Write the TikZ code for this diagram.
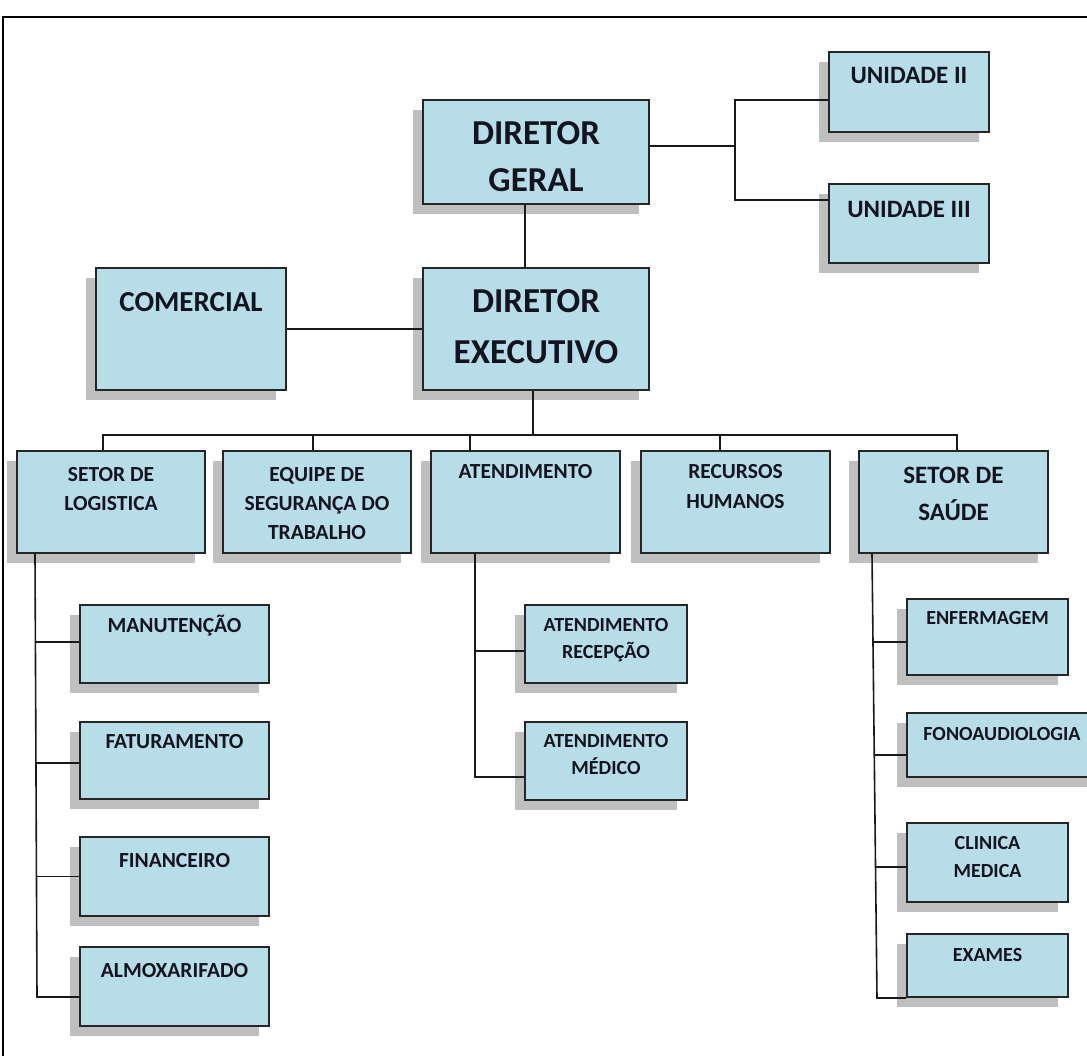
\documentclass[tikz,border=0pt]{standalone}
\usepackage{fontspec}
\setmainfont{Carlito}
\usetikzlibrary{shadows}
\definecolor{boxblue}{HTML}{B7DDE8}
\definecolor{shadowgray}{HTML}{BFBFBF}
\definecolor{txtc}{HTML}{141420}
\newcommand\fsz[1]{\fontsize{#1}{#1}\selectfont\bfseries}
\tikzset{
  box/.style={draw=black!85, line width=1pt, fill=boxblue, inner sep=0pt,
    drop shadow={shadow xshift=-5pt, shadow yshift=-5pt, fill=shadowgray, opacity=1}},
  lbl/.style={anchor=base, inner sep=0pt, text=txtc},
  con/.style={draw=black!90, line width=0.8pt},
}
\newcommand\obox[5]{\node[box, minimum width={(#4-#2)*0.5pt}, minimum height={(#5-#3)*0.5pt}] (#1) at ({(#2+#4)/2},{(#3+#5)/2}) {};}
\newcommand\tl[5]{\node[lbl, font=\fsz{#4}] (#1) at (#2.center |- 0,#3) {#5};}
\begin{document}
\begin{tikzpicture}[x=0.5pt,y=-0.5pt]
\useasboundingbox (0,0) rectangle (1087,1055);
\draw[line width=1pt] (3,17) rectangle (1100,1070);
% boxes
\obox{dg}{423}{100}{649}{204}
\obox{u2}{829}{52}{989}{132}
\obox{u3}{829}{184}{989}{263}
\obox{cm}{96}{268}{286}{390}
\obox{de}{423}{268}{649}{390}
\obox{lg}{17}{451}{205}{553}
\obox{eq}{223}{451}{411}{553}
\obox{at}{431}{451}{620}{553}
\obox{rh}{641}{451}{830}{553}
\obox{sd}{859}{451}{1048}{553}
\obox{mn}{80}{605}{269}{683}
\obox{ft}{80}{722}{269}{799}
\obox{fi}{80}{837}{269}{916}
\obox{al}{80}{947}{269}{1026}
\obox{ar}{525}{605}{687}{683}
\obox{am}{525}{722}{687}{800}
\obox{en}{907}{599}{1068}{675}
\obox{fo}{907}{713}{1097}{777}
\obox{cl}{907}{823}{1068}{902}
\obox{ex}{907}{934}{1068}{997}
% labels
\tl{dg1}{dg}{144}{17.5pt}{DIRETOR}
\tl{dg2}{dg}{191}{17.5pt}{GERAL}
\tl{de1}{de}{312}{17.5pt}{DIRETOR}
\tl{de2}{de}{363}{17.5pt}{EXECUTIVO}
\tl{cm1}{cm}{311}{14.5pt}{COMERCIAL}
\tl{u21}{u2}{83}{12.5pt}{UNIDADE II}
\tl{u31}{u3}{217}{12.5pt}{UNIDADE III}
\tl{lg1}{lg}{481}{10.75pt}{SETOR DE}
\tl{lg2}{lg}{510}{10.75pt}{LOGISTICA}
\tl{eq1}{eq}{481}{10.75pt}{EQUIPE DE}
\tl{eq2}{eq}{510}{10.75pt}{SEGURANÇA DO}
\tl{eq3}{eq}{539}{10.75pt}{TRABALHO}
\tl{at1}{at}{478}{10.75pt}{ATENDIMENTO}
\tl{rh1}{rh}{478}{10.75pt}{RECURSOS}
\tl{rh2}{rh}{508}{10.75pt}{HUMANOS}
\tl{sd1}{sd}{483}{12.5pt}{SETOR DE}
\tl{sd2}{sd}{520}{12.5pt}{SAÚDE}
\tl{mn1}{mn}{632}{10.75pt}{MANUTENÇÃO}
\tl{ft1}{ft}{748}{10.75pt}{FATURAMENTO}
\tl{fi1}{fi}{867}{10.75pt}{FINANCEIRO}
\tl{al1}{al}{977}{10.75pt}{ALMOXARIFADO}
\tl{ar1}{ar}{631}{10pt}{ATENDIMENTO}
\tl{ar2}{ar}{658}{10pt}{RECEPÇÃO}
\tl{am1}{am}{747}{10pt}{ATENDIMENTO}
\tl{am2}{am}{774}{10pt}{MÉDICO}
\tl{en1}{en}{624}{10pt}{ENFERMAGEM}
\tl{fo1}{fo}{740}{10pt}{FONOAUDIOLOGIA}
\tl{cl1}{cl}{849}{10pt}{CLINICA}
\tl{cl2}{cl}{877}{10pt}{MEDICA}
\tl{ex1}{ex}{961}{10pt}{EXAMES}
% connectors
\coordinate (jn) at (735,146);
\coordinate (bus) at (533,435);
\draw[con] ([xshift=-5.5pt]dg.south) -- ([xshift=-5.5pt]de.north);
\draw[con] ([yshift=3pt]dg.east) -- (jn);
\draw[con] ([yshift=-4pt]u2.west) -| (jn) |- ([yshift=11.75pt]u3.west);
\draw[con] (cm.east) -- (de.west);
\draw[con] ([xshift=-1.5pt]de.south) -- (bus);
\draw[con] ([xshift=-4pt]lg.north) |- (bus) -| ([xshift=1.75pt]sd.north);
\draw[con] ([xshift=-2pt]eq.north) -- ++(0,8pt);
\draw[con] ([xshift=-27.75pt]at.north) -- ++(0,8pt);
\draw[con] ([xshift=-7.75pt]rh.north) -- ++(0,8pt);
\draw[con] ([xshift=-38pt]lg.south) -- ([xshift=-21pt,yshift=-5.25pt]al.west) -- ([yshift=-5.25pt]al.west);
\draw[con] ([yshift=1pt]mn.west) -- ++(-22.2pt,0);
\draw[con] ([yshift=-1.25pt]ft.west) -- ++(-21.8pt,0);
\draw[con] (fi.west) -- ++(-21.4pt,0);
\draw[con] ([xshift=-25.25pt]at.south) |- ([yshift=-8pt]am.west);
\draw[con] ([yshift=-3.5pt]ar.west) -- ++(-25pt,0);
\draw[con] ([xshift=-40.75pt]sd.south) -- ([xshift=-14.5pt]ex.south west) -- (ex.south west);
\draw[con] ([yshift=-2.5pt]en.west) -- ++(-16.9pt,0);
\draw[con] ([yshift=-5pt]fo.west) -- ++(-16.15pt,0);
\draw[con] ([yshift=-2.25pt]cl.west) -- ++(-15.4pt,0);
\end{tikzpicture}
\end{document}
